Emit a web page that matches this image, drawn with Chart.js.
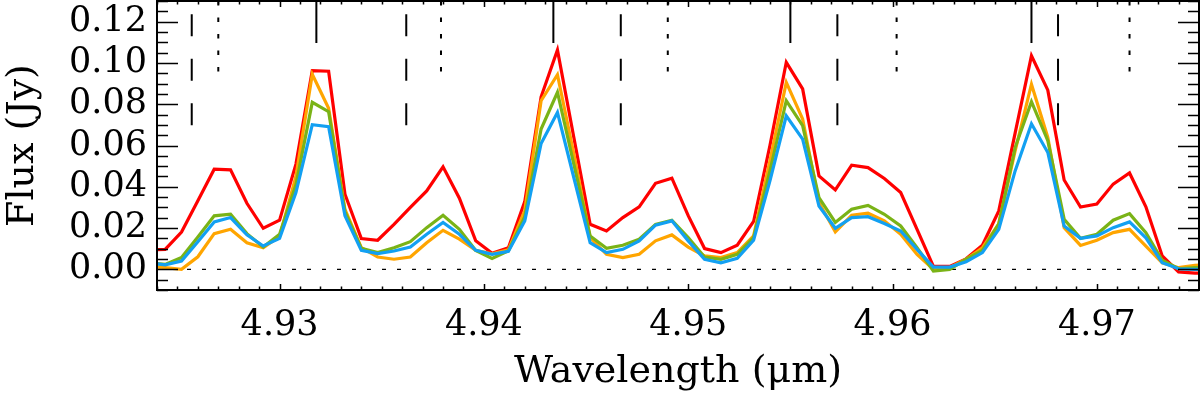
<!DOCTYPE html>
<html>
<head>
<meta charset="utf-8">
<script src="https://cdn.jsdelivr.net/npm/chart.js@4.4.1/dist/chart.umd.min.js"></script>
<style>
html,body{margin:0;padding:0;background:#fff;}
#c{display:block;}
</style>
</head>
<body>
<canvas id="c" width="1200" height="398"></canvas>
<script>
// ---- data (wavelength in micron, flux in Jy) ----
const wavelength = [
  4.9236,4.9244,4.9252,4.9260,4.9268,4.9276,4.9284,4.9292,4.9300,4.9308,
  4.9316,4.9324,4.9332,4.9340,4.9348,4.9356,4.9364,4.9372,4.9380,4.9388,
  4.9396,4.9404,4.9412,4.9420,4.9428,4.9436,4.9444,4.9452,4.9460,4.9468,
  4.9476,4.9484,4.9492,4.9500,4.9508,4.9516,4.9524,4.9532,4.9540,4.9548,
  4.9556,4.9564,4.9572,4.9580,4.9588,4.9596,4.9604,4.9612,4.9620,4.9628,
  4.9636,4.9644,4.9652,4.9660,4.9668,4.9676,4.9684,4.9692,4.9700,4.9708,
  4.9716,4.9724,4.9732,4.9740,4.9748,4.9756
];
const fluxRed = [
  0.0095,0.0097,0.0181,0.0332,0.0485,0.0482,0.0320,0.0199,0.0238,0.0510,
  0.0963,0.0960,0.0364,0.0149,0.0141,0.0218,0.0300,0.0380,0.0497,0.0345,
  0.0138,0.0078,0.0105,0.0328,0.0836,0.1063,0.0640,0.0218,0.0186,0.0251,
  0.0303,0.0417,0.0442,0.0260,0.0101,0.0081,0.0117,0.0232,0.0600,0.1003,
  0.0874,0.0453,0.0385,0.0505,0.0493,0.0440,0.0372,0.0194,0.0014,0.0014,
  0.0051,0.0117,0.0283,0.0660,0.1035,0.0868,0.0433,0.0302,0.0316,0.0413,
  0.0467,0.0303,0.0065,-0.0012,-0.0018,-0.0018
];
const fluxOrange = [
  0.0015,0.0008,0.0000,0.0061,0.0173,0.0194,0.0129,0.0105,0.0160,0.0450,
  0.0945,0.0780,0.0290,0.0105,0.0060,0.0049,0.0060,0.0129,0.0189,0.0146,
  0.0092,0.0075,0.0095,0.0285,0.0817,0.0943,0.0560,0.0154,0.0073,0.0057,
  0.0073,0.0138,0.0167,0.0108,0.0065,0.0057,0.0081,0.0162,0.0526,0.0906,
  0.0728,0.0324,0.0182,0.0262,0.0272,0.0235,0.0170,0.0073,0.0000,0.0008,
  0.0049,0.0105,0.0220,0.0574,0.0897,0.0639,0.0202,0.0116,0.0141,0.0178,
  0.0194,0.0113,0.0032,0.0008,0.0019,0.0025
];
const fluxGreen = [
  0.0032,0.0024,0.0057,0.0157,0.0259,0.0267,0.0173,0.0108,0.0170,0.0410,
  0.0809,0.0764,0.0280,0.0102,0.0081,0.0105,0.0134,0.0202,0.0262,0.0194,
  0.0092,0.0053,0.0090,0.0255,0.0680,0.0858,0.0510,0.0162,0.0102,0.0117,
  0.0146,0.0218,0.0238,0.0154,0.0060,0.0049,0.0073,0.0154,0.0477,0.0817,
  0.0696,0.0348,0.0227,0.0291,0.0310,0.0267,0.0210,0.0105,-0.0008,0.0000,
  0.0049,0.0092,0.0220,0.0590,0.0812,0.0623,0.0243,0.0150,0.0170,0.0238,
  0.0270,0.0178,0.0044,0.0003,0.0008,0.0010
];
const fluxBlue = [
  0.0032,0.0022,0.0040,0.0134,0.0230,0.0251,0.0167,0.0113,0.0150,0.0372,
  0.0701,0.0691,0.0260,0.0092,0.0076,0.0089,0.0108,0.0170,0.0227,0.0170,
  0.0092,0.0073,0.0087,0.0235,0.0610,0.0760,0.0445,0.0129,0.0081,0.0097,
  0.0138,0.0214,0.0235,0.0138,0.0049,0.0032,0.0053,0.0141,0.0429,0.0744,
  0.0631,0.0307,0.0199,0.0251,0.0255,0.0222,0.0186,0.0097,0.0011,0.0011,
  0.0037,0.0081,0.0194,0.0477,0.0705,0.0566,0.0210,0.0150,0.0162,0.0202,
  0.0230,0.0153,0.0032,0.0003,0.0000,0.0000
];
// line markers (wavelengths) and their vertical extents (Jy)
const solidMarks  = [4.9318, 4.9434, 4.9550, 4.9668];
const dashedMarks = [4.9257, 4.9362, 4.9467, 4.9573, 4.9681];
const dottedMarks = [4.9270, 4.9379, 4.9490, 4.9602, 4.9716];
const solidSpan  = [0.130, 0.1097];
const dashedSpan = [0.1236, 0.0698];
const dottedSpan = [0.130, 0.0900];
// axes
const xRange = [4.924, 4.975];
const yRange = [-0.010, 0.130];
const xTickValues = [4.93, 4.94, 4.95, 4.96, 4.97];
const xTickLabels = ['4.93', '4.94', '4.95', '4.96', '4.97'];
const yTickValues = [0.00, 0.02, 0.04, 0.06, 0.08, 0.10, 0.12];
const yTickLabels = ['0.00', '0.02', '0.04', '0.06', '0.08', '0.10', '0.12'];
const xMinorStep = 0.001;
const yMinorStep = 0.005;

const toXY = arr => wavelength.map((w, i) => ({x: w, y: arr[i]}));
const markData = (marks, span) => {
  const out = [];
  marks.forEach(m => { out.push({x: m, y: span[0]}, {x: m, y: span[1]}, {x: m, y: null}); });
  return out;
};

const serif = "'DejaVu Serif', 'Liberation Serif', serif";

const framePlugin = {
  id: 'frame',
  afterDatasetsDraw(chart) {
    const {ctx, chartArea: a, scales} = chart;
    const xs = scales.x, ys = scales.y;
    ctx.save();
    ctx.strokeStyle = '#000';
    ctx.lineWidth = 1.5;
    ctx.beginPath();
    const x0 = Math.ceil(xRange[0] / xMinorStep - 1e-6);
    for (let i = x0; i <= Math.floor(xRange[1] / xMinorStep + 1e-6); i++) {
      const v = i * xMinorStep;
      const major = (i % 10) === 0;
      const len = major ? 6 : 3.5;
      const px = Math.round(xs.getPixelForValue(v)) + 0.5;
      ctx.moveTo(px, a.bottom); ctx.lineTo(px, a.bottom - len);
      ctx.moveTo(px, a.top); ctx.lineTo(px, a.top + len);
    }
    const y0 = Math.ceil(yRange[0] / yMinorStep - 1e-6);
    for (let j = y0; j <= Math.floor(yRange[1] / yMinorStep + 1e-6); j++) {
      const v = j * yMinorStep;
      const major = (j % 4) === 0;
      const len = major ? 21 : 11;
      const py = Math.round(ys.getPixelForValue(v)) + 0.5;
      ctx.moveTo(a.left, py); ctx.lineTo(a.left + len, py);
      ctx.moveTo(a.right, py); ctx.lineTo(a.right - len, py);
    }
    ctx.stroke();
    ctx.lineWidth = 2;
    ctx.strokeRect(a.left, a.top, a.right - a.left, a.bottom - a.top);
    ctx.restore();
  }
};

new Chart(document.getElementById('c'), {
  type: 'line',
  data: {
    datasets: [
      {data: toXY(fluxBlue),   borderColor: '#12a0f2', borderWidth: 3.2},
      {data: toXY(fluxGreen),  borderColor: '#7ab317', borderWidth: 3.2},
      {data: toXY(fluxOrange), borderColor: '#ffa500', borderWidth: 3.2},
      {data: toXY(fluxRed),    borderColor: '#ff0000', borderWidth: 3.2},
      {data: markData(solidMarks, solidSpan),   borderColor: '#000', borderWidth: 2},
      {data: markData(dashedMarks, dashedSpan), borderColor: '#000', borderWidth: 2, borderDash: [22, 22.5]},
      {data: markData(dottedMarks, dottedSpan), borderColor: '#000', borderWidth: 2, borderDash: [4.5, 12]},
      {data: [{x: xRange[0], y: 0}, {x: xRange[1], y: 0}], borderColor: '#000', borderWidth: 1.2, borderDash: [4, 11]}
    ]
  },
  options: {
    responsive: false,
    animation: false,
    devicePixelRatio: 1,
    layout: {padding: {top: 1, right: 1, left: 0, bottom: 0}},
    plugins: {legend: {display: false}, tooltip: {enabled: false}},
    elements: {point: {radius: 0}, line: {tension: 0, borderCapStyle: 'butt', borderJoinStyle: 'miter', fill: false}},
    datasets: {line: {spanGaps: false, clip: 0}},
    scales: {
      x: {
        type: 'linear', position: 'bottom', min: xRange[0], max: xRange[1],
        grid: {display: false, drawTicks: false}, border: {display: false},
        afterBuildTicks: s => { s.ticks = xTickValues.map(v => ({value: v})); },
        afterFit: s => { s.height = 108; s.paddingLeft = 0; s.paddingRight = 0; s.paddingTop = 0; s.paddingBottom = 0; },
        ticks: {
          color: '#000', font: {family: serif, size: 35}, padding: 15, maxRotation: 0, autoSkip: false,
          callback: (v) => { const i = xTickValues.findIndex(t => Math.abs(t - v) < 1e-9); return i >= 0 ? xTickLabels[i] : ''; }
        },
        title: {display: true, text: 'Wavelength (μm)', color: '#000', font: {family: serif, size: 38}, padding: {top: 0, bottom: 3}}
      },
      y: {
        type: 'linear', position: 'left', min: yRange[0], max: yRange[1],
        grid: {display: false, drawTicks: false}, border: {display: false},
        afterBuildTicks: s => { s.ticks = yTickValues.map(v => ({value: v})); },
        afterFit: s => { s.width = 157; s.paddingLeft = 0; s.paddingRight = 0; s.paddingTop = 0; s.paddingBottom = 0; },
        ticks: {
          color: '#000', font: {family: serif, size: 35}, padding: 10, autoSkip: false,
          callback: (v) => { const i = yTickValues.findIndex(t => Math.abs(t - v) < 1e-9); return i >= 0 ? yTickLabels[i] : ''; }
        },
        title: {display: true, text: 'Flux (Jy)', color: '#000', font: {family: serif, size: 38}, padding: {top: 0, bottom: 0}}
      }
    }
  },
  plugins: [framePlugin]
});
</script>
</body>
</html>
